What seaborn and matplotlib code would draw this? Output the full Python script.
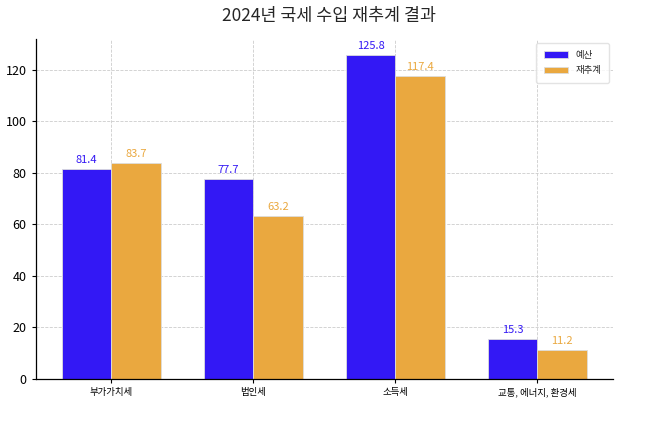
import matplotlib
matplotlib.use("Agg")
import matplotlib.pyplot as plt
import seaborn as sns
import pandas as pd

categories = ["부가가치세", "법인세", "소득세", "교통, 에너지, 환경세"]
budget = [81.4, 77.7, 125.8, 15.3]
reest = [83.7, 63.2, 117.4, 11.2]
series_names = ["예산", "재추계"]
colors = ["#3318F5", "#EAA83F"]

sns.set_theme(style="white")
plt.rcParams['font.family'] = ['Noto Sans CJK KR', 'DejaVu Sans']

df = pd.DataFrame({
    "cat": categories * 2,
    "val": budget + reest,
    "series": [series_names[0]] * len(categories) + [series_names[1]] * len(categories),
})

fig = plt.figure(figsize=(6.58, 4.38), dpi=100)
ax = fig.add_axes([0.054, 0.135, 0.878, 0.777])
sns.barplot(data=df, x="cat", y="val", hue="series", palette=colors,
            width=0.7, ax=ax, errorbar=None, saturation=1,
            edgecolor="#dddddd", linewidth=0.6)

for cont, col in zip(ax.containers, colors):
    ax.bar_label(cont, labels=[f"{v:.1f}" for v in cont.datavalues],
                 color=col, fontsize=8, padding=3)

ax.set_xlim(-0.535, len(categories) - 1 + 0.535)
ax.set_ylim(0, 132.09)
ax.grid(True, linestyle="--", color="#cccccc", linewidth=0.6)
ax.set_axisbelow(True)
ax.set_xlabel("")
ax.set_ylabel("")
ax.tick_params(axis="both", labelsize=9, length=3, width=0.8, left=True, bottom=True, colors="black")
ax.tick_params(axis="x", labelsize=6.8)
for s in ["top", "right"]:
    ax.spines[s].set_visible(False)
for s in ["left", "bottom"]:
    ax.spines[s].set_color("black")
    ax.spines[s].set_linewidth(0.9)

leg = ax.legend(loc="upper right", fontsize=6.8, frameon=True, title=None,
                handlelength=2.5, borderpad=0.8, labelspacing=0.7)
leg.get_frame().set_edgecolor("#dddddd")

fig.suptitle("2024년 국세 수입 재추계 결과", fontsize=12.5, y=0.985)
fig.savefig("out.png", dpi=100)
